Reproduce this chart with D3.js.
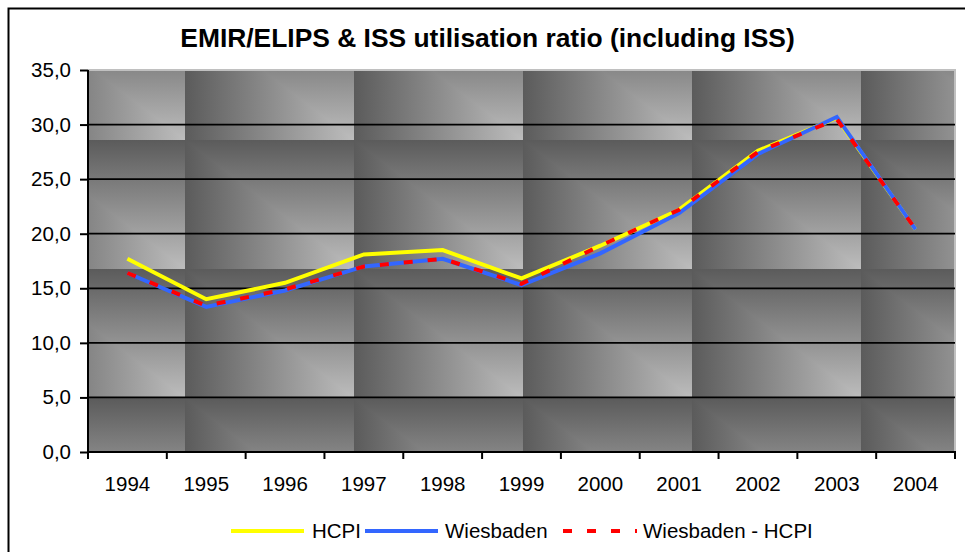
<!DOCTYPE html>
<html>
<head>
<meta charset="utf-8">
<script src="https://cdn.jsdelivr.net/npm/d3@7"></script>
<style>
  html, body { margin: 0; padding: 0; background: #fff; }
  svg { display: block; }
  text { font-family: Arial, "Liberation Sans", sans-serif; fill: #000; }
</style>
</head>
<body>
<svg id="chart" width="965" height="552"></svg>
<script>
// ---- data ----
const years = ["1994","1995","1996","1997","1998","1999","2000","2001","2002","2003","2004"];
const hcpi = [17.7, 14.0, 15.5, 18.1, 18.5, 15.9, 18.9, 22.2, 27.6, 30.6, 20.4];
const wiesbaden = [16.4, 13.3, 14.8, 17.0, 17.7, 15.3, 18.2, 21.9, 27.3, 30.7, 20.4];
const wiesbadenMinusHcpi = [16.4, 13.4, 14.9, 17.0, 17.7, 15.4, 18.9, 22.2, 27.5, 30.5, 20.4];
const seriesNames = ["HCPI", "Wiesbaden", "Wiesbaden - HCPI"];
const yTicks = [0, 5, 10, 15, 20, 25, 30, 35];
const titleText = "EMIR/ELIPS & ISS utilisation ratio (including ISS)";

// ---- layout ----
const W = 965, H = 552;
const plot = { left: 88, right: 955, top: 70, bottom: 452 };
const svg = d3.select("#chart");

// outer chart border
svg.append("rect")
  .attr("x", 8.5).attr("y", 8.5).attr("width", 958).attr("height", 560)
  .attr("fill", "#fff").attr("stroke", "#000").attr("stroke-width", 2);

// ---- tile pattern (Excel "from corner" gradient) ----
const defs = svg.append("defs");
const tileW = 169, tileH = 129;
const dark = "#5b5b5b", light = "#bdbdbd";
const gh = defs.append("linearGradient").attr("id", "gh")
  .attr("x1", 0).attr("y1", 0).attr("x2", 1).attr("y2", 0);
gh.append("stop").attr("offset", 0).attr("stop-color", dark);
gh.append("stop").attr("offset", 1).attr("stop-color", light);
const gv = defs.append("linearGradient").attr("id", "gv")
  .attr("x1", 0).attr("y1", 0).attr("x2", 0).attr("y2", 1);
gv.append("stop").attr("offset", 0).attr("stop-color", dark);
gv.append("stop").attr("offset", 1).attr("stop-color", light);
const pat = defs.append("pattern").attr("id", "tile")
  .attr("patternUnits", "userSpaceOnUse")
  .attr("x", 16).attr("y", 11).attr("width", tileW).attr("height", tileH);
pat.append("rect").attr("width", tileW).attr("height", tileH).attr("fill", "url(#gh)");
pat.append("polygon")
  .attr("points", `0,0 ${tileW},0 ${tileW},${tileH}`)
  .attr("fill", "url(#gv)");

// ---- scales ----
const x = d3.scaleBand().domain(years).range([plot.left, plot.right]).padding(0);
const y = d3.scaleLinear().domain([0, 35]).range([plot.bottom, plot.top]);
const cx = d => x(d) + x.bandwidth() / 2;

// plot background
svg.append("rect")
  .attr("x", plot.left).attr("y", plot.top)
  .attr("width", plot.right - plot.left).attr("height", plot.bottom - plot.top)
  .attr("fill", "url(#tile)");

// plot border (grey top/right)
svg.append("path")
  .attr("d", `M${plot.left},${plot.top} H${plot.right} V${plot.bottom}`)
  .attr("fill", "none").attr("stroke", "#c0c0c0").attr("stroke-width", 2);

// gridlines
svg.append("g").selectAll("line")
  .data(yTicks.filter(v => v > 0 && v < 35))
  .join("line")
  .attr("x1", plot.left).attr("x2", plot.right)
  .attr("y1", d => y(d)).attr("y2", d => y(d))
  .attr("stroke", "#000").attr("stroke-width", 1.8);

// ---- lines ----
const series = [
  { name: seriesNames[0], values: hcpi, color: "#ffff00", dash: null },
  { name: seriesNames[1], values: wiesbaden, color: "#3366ff", dash: null },
  { name: seriesNames[2], values: wiesbadenMinusHcpi, color: "#ff0000", dash: "9,15" }
];
const line = d3.line().x((v, i) => cx(years[i])).y(v => y(v));
svg.append("g").selectAll("path")
  .data(series)
  .join("path")
  .attr("d", s => line(s.values))
  .attr("fill", "none")
  .attr("stroke", s => s.color)
  .attr("stroke-width", 4)
  .attr("stroke-linejoin", "miter")
  .attr("stroke-dasharray", s => s.dash);

// ---- axes ----
const yAxis = svg.append("g")
  .attr("transform", `translate(${plot.left},0)`)
  .call(d3.axisLeft(y).tickValues(yTicks).tickSize(8).tickPadding(9)
    .tickFormat(d => d3.format(".1f")(d).replace(".", ",")));
yAxis.select(".domain").remove();
yAxis.selectAll(".tick line").attr("stroke", "#000").attr("stroke-width", 2);
yAxis.selectAll(".tick text")
  .style("font-size", "20.5px").style("font-family", "Arial, 'Liberation Sans', sans-serif")
  .attr("fill", "#000");

const xAxis = svg.append("g")
  .attr("transform", `translate(0,${plot.bottom})`)
  .call(d3.axisBottom(x).tickSize(0).tickPadding(0));
xAxis.select(".domain").remove();
xAxis.selectAll(".tick text")
  .attr("y", 39).attr("dy", 0)
  .style("font-size", "20.5px").style("font-family", "Arial, 'Liberation Sans', sans-serif")
  .attr("fill", "#000");
// category boundary ticks
const bounds = years.map(d => x(d)).concat([x.range()[1]]);
xAxis.append("g").selectAll("line")
  .data(bounds).join("line")
  .attr("x1", d => d).attr("x2", d => d)
  .attr("y1", 0).attr("y2", 7)
  .attr("stroke", "#000").attr("stroke-width", 2);

// axis lines
svg.append("line")
  .attr("x1", plot.left).attr("x2", plot.left)
  .attr("y1", plot.top).attr("y2", plot.bottom + 1)
  .attr("stroke", "#000").attr("stroke-width", 2);
svg.append("line")
  .attr("x1", plot.left - 1).attr("x2", plot.right + 1)
  .attr("y1", plot.bottom).attr("y2", plot.bottom)
  .attr("stroke", "#000").attr("stroke-width", 2);

// ---- title ----
svg.append("text")
  .attr("x", 487.5).attr("y", 46.5)
  .attr("text-anchor", "middle")
  .style("font-size", "26.4px").style("font-weight", "bold")
  .text(titleText);

// ---- legend ----
const legendPos = [
  { x1: 231, x2: 304, tx: 312 },
  { x1: 365, x2: 438, tx: 445 },
  { x1: 563, x2: 637, tx: 643 }
];
const lg = svg.append("g").selectAll("g")
  .data(series).join("g");
lg.append("line")
  .attr("x1", (s, i) => legendPos[i].x1).attr("x2", (s, i) => legendPos[i].x2)
  .attr("y1", 531).attr("y2", 531)
  .attr("stroke", s => s.color).attr("stroke-width", 4)
  .attr("stroke-dasharray", s => s.dash);
lg.append("text")
  .attr("x", (s, i) => legendPos[i].tx).attr("y", 538)
  .style("font-size", "20.5px")
  .text(s => s.name);
</script>
</body>
</html>
